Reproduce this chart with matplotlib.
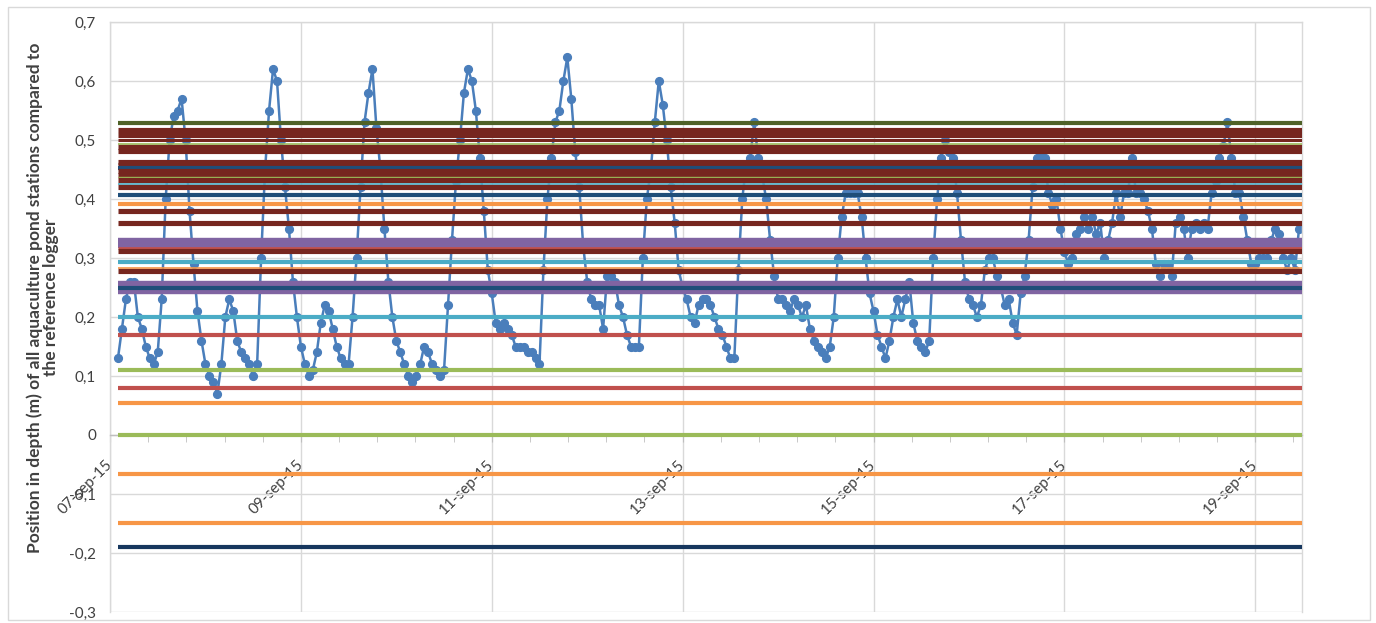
"""
Depth of all aquaculture pond stations relative to the reference logger, 07-19 Sep 2015.
Saves out.png
"""

import matplotlib
matplotlib.use("Agg")
import matplotlib.pyplot as plt
import matplotlib.dates as mdates
import matplotlib.transforms as mtransforms
from matplotlib.patches import Rectangle
from matplotlib.ticker import FuncFormatter, MultipleLocator
import pandas as pd

plt.rcParams["font.family"] = ["Lato", "DejaVu Sans"]

# ── Reference logger series, hourly values (m), one list per day ─────────────
depth_07 = [0.13, 0.18, 0.23, 0.26, 0.26, 0.20, 0.18, 0.15, 0.13, 0.12, 0.14,
            0.23, 0.40, 0.50, 0.54, 0.55, 0.57, 0.50, 0.38, 0.29, 0.21, 0.16]  # from 02:00
depth_08 = [0.12, 0.10, 0.09, 0.07, 0.12, 0.20, 0.23, 0.21, 0.16, 0.14, 0.13, 0.12,
            0.10, 0.12, 0.30, 0.45, 0.55, 0.62, 0.60, 0.50, 0.42, 0.35, 0.26, 0.20]
depth_09 = [0.15, 0.12, 0.10, 0.11, 0.14, 0.19, 0.22, 0.21, 0.18, 0.15, 0.13, 0.12,
            0.12, 0.20, 0.30, 0.42, 0.53, 0.58, 0.62, 0.52, 0.45, 0.35, 0.26, 0.20]
depth_10 = [0.16, 0.14, 0.12, 0.10, 0.09, 0.10, 0.12, 0.15, 0.14, 0.12, 0.11, 0.10,
            0.11, 0.22, 0.33, 0.43, 0.50, 0.58, 0.62, 0.60, 0.55, 0.47, 0.38, 0.28]
depth_11 = [0.24, 0.19, 0.18, 0.19, 0.18, 0.17, 0.15, 0.15, 0.15, 0.14, 0.14, 0.13,
            0.12, 0.28, 0.40, 0.47, 0.53, 0.55, 0.60, 0.64, 0.57, 0.48, 0.42, 0.32]
depth_12 = [0.26, 0.23, 0.22, 0.22, 0.18, 0.27, 0.27, 0.26, 0.22, 0.20, 0.17, 0.15,
            0.15, 0.15, 0.30, 0.40, 0.45, 0.53, 0.60, 0.56, 0.50, 0.42, 0.36, 0.28]
depth_13 = [0.25, 0.23, 0.20, 0.19, 0.22, 0.23, 0.23, 0.22, 0.20, 0.18, 0.17, 0.15,
            0.13, 0.13, 0.28, 0.40, 0.46, 0.47, 0.53, 0.47, 0.44, 0.40, 0.33, 0.27]
depth_14 = [0.23, 0.23, 0.22, 0.21, 0.23, 0.22, 0.20, 0.22, 0.18, 0.16, 0.15, 0.14,
            0.13, 0.15, 0.20, 0.30, 0.37, 0.41, 0.41, 0.41, 0.41, 0.37, 0.30, 0.24]
depth_15 = [0.21, 0.17, 0.15, 0.13, 0.16, 0.20, 0.23, 0.20, 0.23, 0.26, 0.19, 0.16,
            0.15, 0.14, 0.16, 0.30, 0.40, 0.47, 0.50, 0.48, 0.47, 0.41, 0.33, 0.26]
depth_16 = [0.23, 0.22, 0.20, 0.22, 0.28, 0.30, 0.30, 0.27, 0.25, 0.22, 0.23, 0.19,
            0.17, 0.24, 0.27, 0.33, 0.42, 0.47, 0.48, 0.47, 0.41, 0.39, 0.40, 0.35]
depth_17 = [0.31, 0.29, 0.30, 0.34, 0.35, 0.37, 0.35, 0.37, 0.34, 0.36, 0.30, 0.33,
            0.36, 0.41, 0.37, 0.41, 0.41, 0.47, 0.41, 0.41, 0.40, 0.38, 0.35, 0.29]
depth_18 = [0.27, 0.29, 0.29, 0.27, 0.36, 0.37, 0.35, 0.30, 0.35, 0.36, 0.35, 0.36,
            0.35, 0.41, 0.43, 0.47, 0.49, 0.53, 0.47, 0.41, 0.41, 0.37, 0.33, 0.29]
depth_19 = [0.29, 0.30, 0.30, 0.30, 0.33, 0.35, 0.34, 0.30, 0.28, 0.30, 0.28, 0.35]

depth = (depth_07 + depth_08 + depth_09 + depth_10 + depth_11 + depth_12 + depth_13
         + depth_14 + depth_15 + depth_16 + depth_17 + depth_18 + depth_19)
times = pd.date_range("2015-09-07 02:00", periods=len(depth), freq="h")

# ── Pond stations: constant positions (m) and their series colour ────────────
station_levels = [0.529, 0.517, 0.509, 0.500, 0.493, 0.488, 0.482, 0.463, 0.457, 0.453,
                  0.447, 0.441, 0.437, 0.432, 0.425, 0.420, 0.406, 0.392, 0.380, 0.359,
                  0.328, 0.322, 0.317, 0.312, 0.293, 0.283, 0.278, 0.256, 0.244, 0.250,
                  0.200, 0.170, 0.110, 0.080, 0.055, 0.000, -0.066, -0.149, -0.190]
station_colors = ["olive", "dred", "dred", "dred", "green", "dred", "dred", "dred", "dred", "dblue",
                  "dred", "dred", "green", "dred", "lblue", "dred", "dblue", "orange", "dred", "dred",
                  "purple", "purple", "red", "dred", "lblue", "orange", "dred", "purple", "purple", "dblue",
                  "lblue", "red", "green", "red", "orange", "green", "orange", "orange", "navy"]

# ── Palette / styles ─────────────────────────────────────────────────────────
PALETTE = {
    "olive": "#4f6228", "dred": "#76261f", "green": "#9bbb59", "dblue": "#1f4e79",
    "lblue": "#4bacc6", "orange": "#f79646", "purple": "#8064a2", "red": "#c0504d",
    "navy": "#17375e",
}
WIDTH = {"olive": 3.0, "dred": 3.7, "green": 3.0, "dblue": 3.0, "lblue": 3.0,
         "orange": 3.0, "purple": 4.6, "red": 3.0, "navy": 3.0}
THIN = {0.500: 2.2, 0.493: 1.2, 0.437: 1.0, 0.425: 1.2, 0.317: 2.0, 0.283: 1.2}
C_SERIES = "#4a7ebb"
C_GRID = "#d9d9d9"
C_TEXT = "#404040"

t_start = pd.Timestamp("2015-09-07 00:00")
t_end = pd.Timestamp("2015-09-19 11:45")
t_line0 = pd.Timestamp("2015-09-07 02:00")

fig = plt.figure(figsize=(13.76, 6.23), dpi=100)
ax = fig.add_axes([110 / 1376, 1 - 612 / 623, 1192 / 1376, 590 / 623])

ax.plot(times, depth, "-o", color=C_SERIES, lw=1.8, ms=5.6, zorder=2)

for lev, ck in zip(station_levels, station_colors):
    lw = THIN.get(lev, WIDTH[ck])
    ax.hlines(lev, t_line0, t_end, color=PALETTE[ck], lw=lw, zorder=3)

ax.set_xlim(t_start, t_end)
ax.set_ylim(-0.3, 0.7)

# axes: x axis crosses at 0
ax.spines["bottom"].set_position(("data", 0))
for s in ax.spines.values():
    s.set_color(C_GRID)
    s.set_linewidth(1)
ax.spines["bottom"].set_color("#bfbfbf")

ax.xaxis.set_major_locator(mdates.DayLocator(bymonthday=[7, 9, 11, 13, 15, 17, 19]))
minor_ticks = [t_start + pd.Timedelta(hours=9.6 * i) for i in range(32)]
ax.set_xticks(minor_ticks, minor=True)
ax.xaxis.set_major_formatter(FuncFormatter(
    lambda v, p: mdates.num2date(v).strftime("%d-%b-%y").lower()))
ax.yaxis.set_major_locator(MultipleLocator(0.1))
ax.yaxis.set_major_formatter(FuncFormatter(
    lambda v, p: "0" if abs(v) < 1e-9 else f"{v:.1f}".replace(".", ",")))

ax.tick_params(axis="x", which="both", direction="out", length=5, color="#bfbfbf",
               labelsize=11, labelcolor=C_TEXT, pad=11)
ax.tick_params(axis="y", length=0, labelsize=11, labelcolor=C_TEXT, pad=10)
shift = mtransforms.ScaledTranslation(-5 / 100, 0, fig.dpi_scale_trans)
for lab in ax.get_xticklabels():
    lab.set_rotation(45)
    lab.set_ha("right")
    lab.set_va("top")
    lab.set_rotation_mode("anchor")
    lab.set_transform(lab.get_transform() + shift)

ax.grid(True, which="major", color=C_GRID, lw=1, zorder=0)
ax.set_axisbelow(True)

ax.set_ylabel("Position in depth (m) of all aquaculture pond stations compared to\n"
              "the reference logger", fontsize=12.5, fontweight="bold", color=C_TEXT,
              linespacing=0.95)
ax.yaxis.set_label_coords(-0.043, 0.533)

# chart border
fig.patches.append(Rectangle((8 / 1376, 3 / 623), 1362 / 1376, 613 / 623,
                             transform=fig.transFigure, fill=False, ec=C_GRID, lw=1))

fig.savefig("out.png", dpi=100)
